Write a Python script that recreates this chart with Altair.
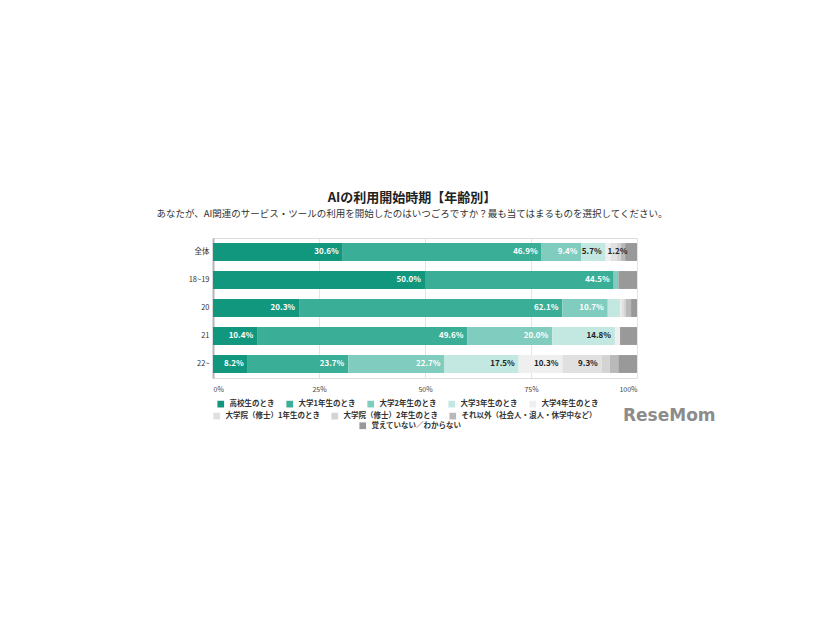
import altair as alt
import pandas as pd

ages = ["全体", "18~19", "20", "21", "22~"]
series = [
    "高校生のとき",
    "大学1年生のとき",
    "大学2年生のとき",
    "大学3年生のとき",
    "大学4年生のとき",
    "大学院（修士）1年生のとき",
    "大学院（修士）2年生のとき",
    "それ以外（社会人・浪人・休学中など）",
    "覚えていない／わからない",
]
colors = ["#12977f", "#3bae97", "#80ccbe", "#c3e8e1", "#efefef",
          "#e0e0e0", "#d3d3d3", "#b9b9b9", "#999999"]

v_koko = [30.6, 50.0, 20.3, 10.4, 8.2]
v_u1 = [46.9, 44.5, 62.1, 49.6, 23.7]
v_u2 = [9.4, 1.1, 10.7, 20.0, 22.7]
v_u3 = [5.7, 0.0, 2.9, 14.8, 17.5]
v_u4 = [1.2, 0.0, 0.3, 1.2, 10.3]
v_m1 = [1.4, 0.0, 0.5, 0.0, 9.3]
v_m2 = [1.0, 0.0, 0.5, 0.0, 1.9]
v_other = [1.0, 0.0, 1.3, 0.0, 2.0]
v_unknown = [2.8, 4.4, 1.4, 4.0, 4.4]
all_values = [v_koko, v_u1, v_u2, v_u3, v_u4, v_m1, v_m2, v_other, v_unknown]

# legend rows as in the original (5 / 3 / 1 entries)
legend_rows = [(0, 5), (5, 8), (8, 9)]

# small segments that still carry a value label in the original
extra_labels = [("全体", "大学4年生のとき")]
white_text_series = series[:3]

rows = []
for ai, age in enumerate(ages):
    start = 0.0
    for si, s in enumerate(series):
        v = all_values[si][ai]
        end = start + v
        show = (v >= 5 and s != series[-1]) or ((age, s) in extra_labels)
        rows.append({
            "age": age, "series": s, "order": si, "value": v,
            "start": start, "end": end,
            "label": f"{v:.1f}%" if show else "",
            "wide": v >= 5,
            "white": s in white_text_series,
        })
        start = end
df = pd.DataFrame(rows)
df = df[df["value"] > 0]

FONT = "Noto Sans CJK JP"

y_enc = alt.Y("age:N", sort=ages, title=None,
              scale=alt.Scale(paddingInner=0.36, paddingOuter=0.18),
              axis=alt.Axis(ticks=False, domain=True, domainColor="#b5b5b5", domainWidth=2,
                            labelFontSize=7.5, labelColor="#333333", labelPadding=4,
                            labelFont=FONT))
x_enc = alt.X("start:Q", title=None,
              scale=alt.Scale(domain=[0, 100], nice=False),
              axis=alt.Axis(values=[0, 25, 50, 75, 100], labelExpr="datum.value + '%'",
                            grid=True, gridColor="#e4e4e4", domain=False, ticks=False,
                            labelFontSize=7, labelColor="#444444", labelPadding=7,
                            labelFont=FONT))

# legend placement (plot-relative) for each legend row
legend_pos = [(4, 162), (0, 174), (146, 184)]

bar_layers = []
for gi, (a, b) in enumerate(legend_rows):
    grp = series[a:b]
    lx, ly = legend_pos[gi]
    layer = alt.Chart(df[df["series"].isin(grp)]).mark_bar().encode(
        y=y_enc,
        x=x_enc,
        x2="end:Q",
        color=alt.Color("series:N", sort=grp,
                        scale=alt.Scale(domain=grp, range=colors[a:b]),
                        legend=alt.Legend(title=None, orient="none", legendX=lx, legendY=ly,
                                          direction="horizontal", columns=len(grp),
                                          symbolType="square", symbolSize=45,
                                          symbolStrokeWidth=0,
                                          labelFontSize=7.5, labelFont=FONT,
                                          labelFontWeight="bold", labelColor="#333333",
                                          labelLimit=300, columnPadding=11,
                                          labelOffset=5)),
        order=alt.Order("order:Q"),
    )
    bar_layers.append(layer)

text_color = alt.condition("datum.white", alt.value("#ffffff"), alt.value("#222222"))

labels_wide = alt.Chart(df).transform_filter(
    "datum.label != '' && datum.wide"
).mark_text(align="right", baseline="middle", dx=-4, fontSize=8,
            fontWeight="bold", font=FONT).encode(
    y=alt.Y("age:N", sort=ages),
    x=alt.X("end:Q"),
    text="label:N",
    color=text_color,
)

labels_narrow = alt.Chart(df).transform_filter(
    "datum.label != '' && !datum.wide"
).mark_text(align="left", baseline="middle", dx=2, fontSize=8,
            fontWeight="bold", font=FONT).encode(
    y=alt.Y("age:N", sort=ages),
    x=alt.X("start:Q"),
    text="label:N",
    color=text_color,
)

logo = alt.Chart(pd.DataFrame({"t": ["ReseMom"]})).mark_text(
    align="left", baseline="alphabetic", fontSize=17, fontWeight="bold",
    font="DejaVu Sans", color="#8c8c8c"
).encode(x=alt.value(410), y=alt.value(183), text="t:N")

chart = alt.layer(*bar_layers, labels_wide, labels_narrow, logo).resolve_scale(
    color="independent"
).properties(
    width=424,
    height=140,
    padding={"left": 148, "top": 183, "right": 10, "bottom": 10},
    title=alt.TitleParams(
        text="AIの利用開始時期【年齢別】",
        subtitle="あなたが、AI関連のサービス・ツールの利用を開始したのはいつごろですか？最も当てはまるものを選択してください。",
        anchor="middle", frame="group", dx=-13,
        font=FONT, fontSize=13, fontWeight="bold", color="#222222",
        subtitleFont=FONT, subtitleFontSize=9.5, subtitleColor="#333333",
        subtitlePadding=4, offset=20,
    ),
).configure_view(stroke=None).configure(background="#ffffff")

chart.save("out.html", embed_options={"renderer": "svg", "actions": False})
